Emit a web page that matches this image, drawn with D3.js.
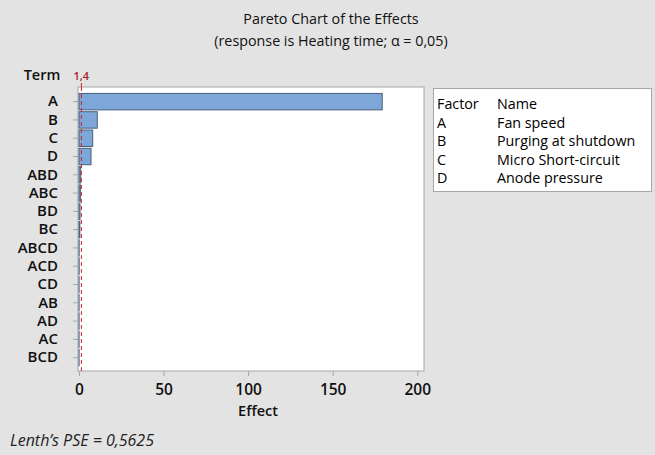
<!DOCTYPE html>
<html>
<head>
<meta charset="utf-8">
<script src="https://cdn.jsdelivr.net/npm/d3@7"></script>
<style>
  html, body { margin: 0; padding: 0; background: #e3e3e3; }
  svg { display: block; font-family: "Open Sans", "Noto Sans", sans-serif; }
</style>
</head>
<body>
<svg id="chart"></svg>
<script>
// Terms, sorted as in the chart (largest effect first)
const terms = ["A", "B", "C", "D", "ABD", "ABC", "BD", "BC", "ABCD", "ACD", "CD", "AB", "AD", "AC", "BCD"];
const effects = [179.3, 10.8, 8.1, 7.1, 1.0, 0.8, 0.6, 0.5, 0.1, 0.1, 0.05, 0.05, 0.05, 0.05, 0.05];
const xTicks = [0, 50, 100, 150, 200];
const critical = 1.4;
const criticalLabel = "1,4";
const factors = ["A", "B", "C", "D"];
const factorNames = ["Fan speed", "Purging at shutdown", "Micro Short-circuit", "Anode pressure"];

const width = 655, height = 455;
const plot = { left: 78, top: 87, right: 424, bottom: 371 };

const svg = d3.select("#chart").attr("width", width).attr("height", height);

svg.append("rect").attr("width", width).attr("height", height).attr("fill", "#e3e3e3");

// Titles
svg.append("text")
    .attr("x", 331).attr("y", 24)
    .attr("text-anchor", "middle")
    .attr("fill", "#111")
    .style("font-size", "14.3px")
    .style("font-weight", "500")
    .text("Pareto Chart of the Effects");
svg.append("text")
    .attr("x", 331).attr("y", 46)
    .attr("text-anchor", "middle")
    .attr("fill", "#111")
    .style("font-size", "14.3px")
    .style("font-weight", "500")
    .text("(response is Heating time; \u03b1 = 0,05)");

// Scales
const x = d3.scaleLinear().domain([-0.6, 204]).range([plot.left, plot.right]);
const y = d3.scaleBand().domain(terms).range([92.5, 366.8]).paddingInner(0.1).paddingOuter(0.05);

// Plot area
svg.append("rect")
    .attr("x", plot.left).attr("y", plot.top)
    .attr("width", plot.right - plot.left).attr("height", plot.bottom - plot.top)
    .attr("fill", "white")
    .attr("stroke", "#a6a6a6");

// Bars
svg.append("g")
    .selectAll("rect")
    .data(terms)
    .enter()
    .append("rect")
    .attr("x", x(0))
    .attr("y", d => y(d))
    .attr("width", (d, i) => x(effects[i]) - x(0))
    .attr("height", y.bandwidth())
    .attr("fill", "#7da7d9")
    .attr("stroke", "#4a5f7c")
    .attr("stroke-width", 1);

// Reference line
svg.append("line")
    .attr("x1", x(critical)).attr("x2", x(critical))
    .attr("y1", plot.top).attr("y2", plot.bottom)
    .attr("stroke", "#c0272d")
    .attr("stroke-width", 1)
    .attr("stroke-dasharray", "4,3");
svg.append("line")
    .attr("x1", x(critical)).attr("x2", x(critical))
    .attr("y1", plot.top - 4).attr("y2", plot.top)
    .attr("stroke", "#c0272d");
svg.append("text")
    .attr("x", x(critical)).attr("y", plot.top - 7)
    .attr("text-anchor", "middle")
    .attr("fill", "#a8242a")
    .style("font-size", "11px")
    .style("font-weight", "600")
    .text(criticalLabel);

// X axis
const xAxis = svg.append("g")
    .attr("transform", `translate(0,${plot.bottom})`)
    .call(d3.axisBottom(x).tickValues(xTicks).tickSize(5).tickPadding(8));
xAxis.select(".domain").remove();
xAxis.selectAll("line").attr("stroke", "#a6a6a6");
xAxis.selectAll("text")
    .style("font-size", "15.5px")
    .style("font-weight", "600")
    .style("font-family", "Open Sans")
    .attr("fill", "#111");

// Y axis
const yAxis = svg.append("g")
    .attr("transform", `translate(${plot.left},0)`)
    .call(d3.axisLeft(y).tickSize(5).tickPadding(15));
yAxis.select(".domain").remove();
yAxis.selectAll("line").attr("stroke", "#a6a6a6");
yAxis.selectAll("text")
    .style("font-size", "15px")
    .style("font-weight", "600")
    .style("font-family", "Open Sans")
    .attr("fill", "#111");

// Axis titles
svg.append("text")
    .attr("x", 258).attr("y", 416)
    .attr("text-anchor", "middle")
    .attr("fill", "#111")
    .style("font-size", "14.5px")
    .style("font-weight", "600")
    .text("Effect");
svg.append("text")
    .attr("x", 42).attr("y", 80)
    .attr("text-anchor", "middle")
    .attr("fill", "#111")
    .style("font-size", "14.5px")
    .style("font-weight", "600")
    .text("Term");

// Footnote
svg.append("text")
    .attr("x", 10).attr("y", 446)
    .attr("fill", "#222")
    .style("font-size", "16px")
    .style("font-style", "italic")
    .text("Lenth\u2019s PSE = 0,5625");

// Factor legend
const legend = svg.append("g");
legend.append("rect")
    .attr("x", 433.5).attr("y", 88.5)
    .attr("width", 218).attr("height", 103)
    .attr("fill", "white")
    .attr("stroke", "#a6a6a6");

const rowY = d3.scaleLinear().domain([0, 1]).range([109, 127.5]);
legend.append("text").attr("x", 437).attr("y", rowY(0)).style("font-size", "14.3px").text("Factor");
legend.append("text").attr("x", 497).attr("y", rowY(0)).style("font-size", "14.3px").text("Name");
legend.selectAll(".fac")
    .data(factors)
    .enter()
    .append("text")
    .attr("x", 437)
    .attr("y", (d, i) => rowY(i + 1))
    .style("font-size", "14.3px")
    .text(d => d);
legend.selectAll(".nm")
    .data(factorNames)
    .enter()
    .append("text")
    .attr("x", 497)
    .attr("y", (d, i) => rowY(i + 1))
    .style("font-size", "14.3px")
    .text(d => d);
</script>
</body>
</html>
